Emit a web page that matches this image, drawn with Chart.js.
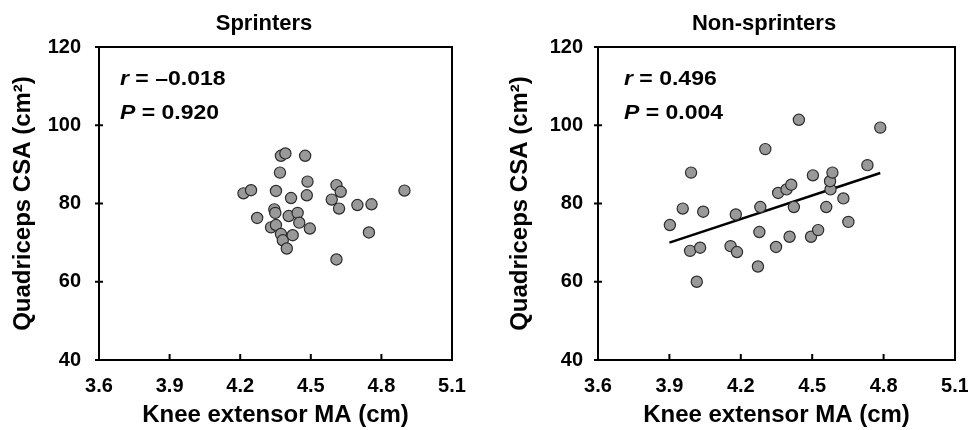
<!DOCTYPE html>
<html>
<head>
<meta charset="utf-8">
<script src="https://cdn.jsdelivr.net/npm/chart.js@4.4.1/dist/chart.umd.min.js"></script>
<style>
	body { margin: 0; background: #fff; }
	.box { position: absolute; top: 0; width: 484px; height: 430px; }
</style>
</head>
<body>
<div class="box" style="left:0"><canvas id="graph_sprint" width="484" height="430"></canvas></div>
<div class="box" style="left:484px"><canvas id="graph_non" width="484" height="430"></canvas></div>
<script>
// 축 눈금
const xTicks = [3.6, 3.9, 4.2, 4.5, 4.8, 5.1];
const yTicks = [40, 60, 80, 100, 120];

// Sprinters : knee extensor MA (cm) / quadriceps CSA (cm2)
const sprintMA  = [4.214, 4.246, 4.272, 4.331, 4.352, 4.345, 4.349, 4.352, 4.369, 4.373, 4.392,
                   4.373, 4.381, 4.398, 4.416, 4.406, 4.423, 4.444, 4.451, 4.476, 4.486, 4.483,
                   4.496, 4.589, 4.609, 4.627, 4.620, 4.609, 4.698, 4.758, 4.747, 4.898];
const sprintCSA = [82.6, 83.4, 76.3, 73.9, 83.2, 78.5, 77.6, 74.5, 87.9, 92.2, 92.8,
                   72.2, 70.6, 68.5, 81.4, 76.8, 71.9, 77.6, 75.1, 92.2, 85.6, 82.1,
                   73.6, 81.0, 84.7, 83.0, 78.7, 65.7, 79.6, 79.8, 72.6, 83.3];

// Non-sprinters
const nonMA  = [3.902, 3.956, 3.991, 3.987, 4.029, 4.015, 4.042, 4.157, 4.179, 4.184, 4.272,
                4.278, 4.282, 4.303, 4.348, 4.357, 4.392, 4.412, 4.405, 4.423, 4.444, 4.495,
                4.503, 4.525, 4.559, 4.577, 4.575, 4.585, 4.631, 4.652, 4.732, 4.786];
const nonCSA = [74.5, 78.7, 87.9, 67.9, 68.7, 60.0, 77.9, 69.1, 77.2, 67.6, 63.9,
                72.7, 79.1, 93.9, 68.9, 82.7, 83.6, 84.8, 71.5, 79.1, 101.4, 71.5,
                87.2, 73.2, 79.1, 83.6, 85.7, 87.9, 81.3, 75.3, 89.8, 99.4];

// 회귀선 (non-sprinters)
const fitMA  = [3.90, 4.786];
const fitCSA = [70.0, 87.8];

const FONT = "'Liberation Sans', Arial, sans-serif";

function toPoints(xs, ys) {
	return xs.map(function(x, i) {
		return { x: x, y: ys[i] };
	});
}

// 테두리 + 눈금 + 제목 + r/P 텍스트
const framePlugin = {
	id: 'framePlugin',
	beforeDatasetsDraw: function(chart) {
		let ctx = chart.ctx;
		let a = chart.chartArea;
		let sx = chart.scales.x, sy = chart.scales.y;
		ctx.save();
		ctx.strokeStyle = '#000';
		ctx.lineWidth = 2;
		ctx.strokeRect(a.left, a.top, a.right - a.left, a.bottom - a.top);
		ctx.beginPath();
		xTicks.forEach(function(v) {
			let px = sx.getPixelForValue(v);
			ctx.moveTo(px, a.bottom);
			ctx.lineTo(px, a.bottom - 6);
		});
		yTicks.forEach(function(v) {
			let py = sy.getPixelForValue(v);
			ctx.moveTo(a.left - 4, py);
			ctx.lineTo(a.left + 4, py);
		});
		ctx.stroke();
		ctx.restore();
	},
	afterDraw: function(chart, args, opts) {
		let ctx = chart.ctx;
		let a = chart.chartArea;
		ctx.save();
		ctx.fillStyle = '#000';
		ctx.textBaseline = 'middle';
		ctx.textAlign = 'center';
		ctx.font = 'bold 22px ' + FONT;
		ctx.fillText(opts.title, opts.titleX, 24);

		ctx.textAlign = 'left';
		opts.lines.forEach(function(line, i) {
			ctx.save();
			ctx.translate(a.left + opts.textDx, 79 + i * 34);
			ctx.scale(1.15, 1);
			let x = 0;
			ctx.font = 'italic bold 20px ' + FONT;
			ctx.fillText(line[0], x, 0);
			x += ctx.measureText(line[0]).width;
			ctx.font = 'bold 20px ' + FONT;
			ctx.fillText(line[1], x, 0);
			ctx.restore();
		});
		ctx.restore();
	}
};

function drawScatter(canvasId, title, xs, ys, fit, lay) {
	let datasets = [{
		type: 'scatter',
		data: toPoints(xs, ys),
		pointRadius: 5.6,
		pointBackgroundColor: '#999999',
		pointBorderColor: '#2b2b2b',
		pointBorderWidth: 1.2
	}];
	if (fit) {
		datasets.push({
			type: 'line',
			data: toPoints(fit[0], fit[1]),
			borderColor: '#000',
			borderWidth: 2.6,
			pointRadius: 0,
			fill: false
		});
	}

	let ctx = document.getElementById(canvasId).getContext('2d');
	return new Chart(ctx, {
		type: 'scatter',
		data: { datasets: datasets },
		options: {
			responsive: false,
			animation: false,
			layout: { padding: { left: 0, right: lay.padRight, top: 47, bottom: 0 } },
			scales: {
				x: {
					type: 'linear',
					min: 3.6,
					max: 5.1,
					afterBuildTicks: function(s) {
						s.ticks = xTicks.map(function(v) { return { value: v }; });
					},
					afterFit: function(s) {
						s.height = 70;
						s.paddingLeft = 0;
						s.paddingRight = 0;
					},
					grid: { display: false, drawTicks: false },
					border: { display: false },
					ticks: {
						padding: 14,
						color: '#000',
						font: { family: FONT, size: 20, weight: 'bold' },
						callback: function(v) { return v.toFixed(1); }
					},
					title: {
						display: true,
						text: 'Knee extensor MA (cm)',
						color: '#000',
						font: { family: FONT, size: 24, weight: 'bold' },
						padding: { top: 0, bottom: 0 }
					}
				},
				y: {
					type: 'linear',
					min: 40,
					max: 120,
					afterBuildTicks: function(s) {
						s.ticks = yTicks.map(function(v) { return { value: v }; });
					},
					afterFit: function(s) {
						s.width = lay.axisWidth;
						s.paddingTop = 0;
						s.paddingBottom = 0;
					},
					grid: { display: false, drawTicks: false },
					border: { display: false },
					ticks: {
						padding: lay.tickPad,
						color: '#000',
						font: { family: FONT, size: 20, weight: 'bold' }
					},
					title: {
						display: true,
						text: 'Quadriceps CSA (cm²)',
						color: '#000',
						font: { family: FONT, size: 24, weight: 'bold' },
						padding: { top: lay.titlePad, bottom: 0 }
					}
				}
			},
			plugins: {
				legend: { display: false },
				tooltip: { enabled: false },
				framePlugin: {
					title: title,
					titleX: lay.titleX,
					textDx: lay.textDx,
					lines: lay.lines
				}
			}
		},
		plugins: [framePlugin]
	});
}

document.addEventListener("DOMContentLoaded", function() {
	drawScatter('graph_sprint', 'Sprinters', sprintMA, sprintCSA, null, {
		padRight: 32, axisWidth: 99, tickPad: 18, titlePad: 9, titleX: 264, textDx: 21,
		lines: [['r', ' = \u20130.018'], ['P', ' = 0.920']]
	});
	drawScatter('graph_non', 'Non-sprinters', nonMA, nonCSA, [fitMA, fitCSA], {
		padRight: 13, axisWidth: 114, tickPad: 15, titlePad: 22, titleX: 280, textDx: 26,
		lines: [['r', ' = 0.496'], ['P', ' = 0.004']]
	});
});
</script>
</body>
</html>
